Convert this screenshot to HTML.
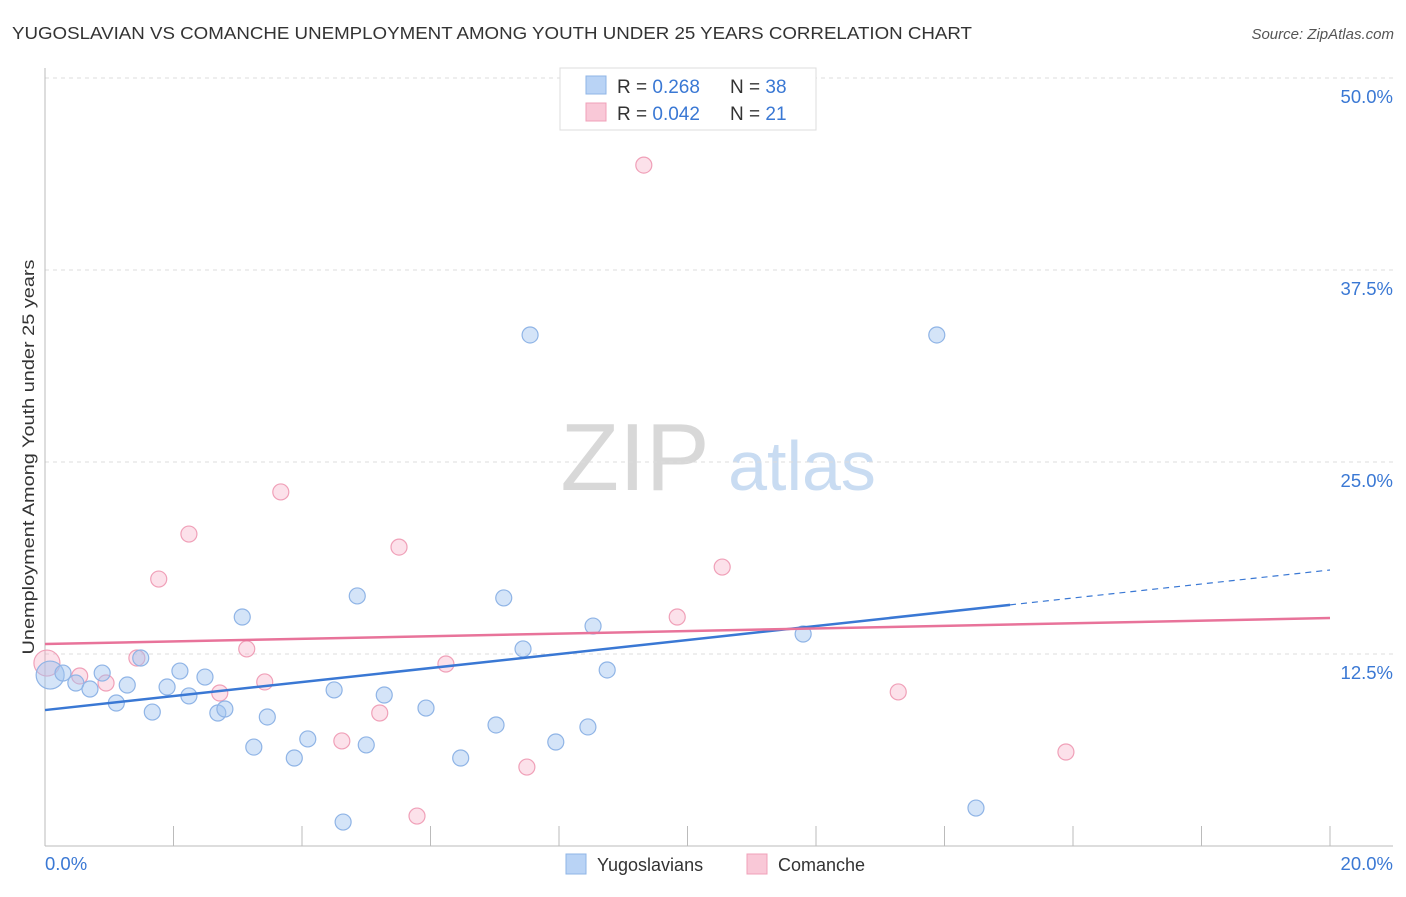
<!DOCTYPE html>
<html><head><meta charset="utf-8"><style>
body{margin:0;background:#fff;font-family:"Liberation Sans",sans-serif;}
svg text{font-family:"Liberation Sans",sans-serif;}
</style></head><body>
<svg id="chart" width="1406" height="892">
<text x="12" y="39" font-size="17.5" fill="#333" textLength="960" lengthAdjust="spacingAndGlyphs">YUGOSLAVIAN VS COMANCHE UNEMPLOYMENT AMONG YOUTH UNDER 25 YEARS CORRELATION CHART</text>
<text x="1394" y="39" font-size="15" fill="#555" font-style="italic" text-anchor="end">Source: ZipAtlas.com</text>
<text x="635" y="490" font-size="96" fill="#d8d8d8" font-family="Liberation Serif" text-anchor="middle">ZIP</text>
<text x="802" y="490" font-size="70" fill="#c9dcf2" text-anchor="middle">atlas</text>
<g id="grid"></g><g id="axes"></g><g id="marks"></g>
<text transform="translate(34,457) rotate(-90)" font-size="17" fill="#333" text-anchor="middle" textLength="395" lengthAdjust="spacingAndGlyphs">Unemployment Among Youth under 25 years</text>
<rect x="560" y="68" width="256" height="62" fill="#fff" stroke="#ddd"/>
<rect x="586" y="76" width="20" height="18" fill="#b9d3f5" stroke="#8fb4e6"/>
<rect x="586" y="103" width="20" height="18" fill="#f9c8d7" stroke="#f0a0b8"/>
<text x="617" y="93" font-size="19" fill="#333">R =  <tspan fill="#3a78d4">0.268</tspan></text>
<text x="730" y="93" font-size="19" fill="#333">N = <tspan fill="#3a78d4">38</tspan></text>
<text x="617" y="120" font-size="19" fill="#333">R = <tspan fill="#3a78d4">0.042</tspan></text>
<text x="730" y="120" font-size="19" fill="#333">N =  <tspan fill="#3a78d4">21</tspan></text>
<rect x="566" y="854" width="20" height="20" fill="#b9d3f5" stroke="#8fb4e6"/>
<text x="597" y="871" font-size="18" fill="#333">Yugoslavians</text>
<rect x="747" y="854" width="20" height="20" fill="#f9c8d7" stroke="#f0a0b8"/>
<text x="778" y="871" font-size="18" fill="#333">Comanche</text>
</svg>
<script>
const blueX=[0.08,0.28,0.48,0.70,0.89,1.11,1.28,1.49,1.67,1.90,2.10,2.24,2.49,2.69,2.80,3.07,3.25,3.46,3.88,4.09,4.50,4.64,4.86,5.00,5.28,5.93,6.47,7.02,7.14,7.44,7.55,7.95,8.45,8.53,8.75,11.80,13.88,14.49];
const blueY=[11.13,11.26,10.61,10.22,11.26,9.31,10.48,12.24,8.72,10.35,11.39,9.77,11.00,8.66,8.92,14.91,6.44,8.40,5.73,6.97,10.16,1.56,16.28,6.58,9.83,8.98,5.73,7.88,16.15,12.83,33.27,6.77,7.75,14.32,11.46,13.80,33.27,2.47];
const pinkX=[0.03,0.54,0.95,1.43,1.77,2.24,2.72,3.14,3.42,3.67,4.62,5.21,5.51,5.79,6.24,7.50,9.32,9.84,10.54,13.28,15.89];
const pinkY=[11.91,11.07,10.61,12.24,17.38,20.31,9.96,12.83,10.68,23.05,6.84,8.66,19.46,1.95,11.85,5.14,44.33,14.91,18.16,10.03,6.12];
const blueTrend=[8.85,17.97]; const blueSolidEnd=15.02;
const pinkTrend=[13.15,14.84];
const yTicks=[12.5,25,37.5,50];
const xTickVals=[0,2,4,6,8,10,12,14,16,18,20];
const NS="http://www.w3.org/2000/svg";
const X=v=>45+v/20*1285, Y=v=>846-v/12.5*192;
function mk(tag,attrs,parent){const e=document.createElementNS(NS,tag);for(const k in attrs)e.setAttribute(k,attrs[k]);document.getElementById(parent).appendChild(e);return e;}
yTicks.forEach(t=>{
 const l=mk('line',{x1:45,x2:1393,y1:Y(t),y2:Y(t),stroke:'#ddd','stroke-dasharray':'4,4'},'grid');
 
 
 const tx=mk('text',{x:1393,y:Y(t)+25,'font-size':18.5,fill:'#3a78d4','text-anchor':'end'},'grid');
 tx.textContent=t.toFixed(1)+'%';
 
 
});
let a=mk('line',{x1:45,x2:45,y1:68,y2:846,stroke:'#bbb'},'axes');


a=mk('line',{x1:45,x2:1393,y1:846,y2:846,stroke:'#bbb'},'axes');


xTickVals.forEach(t=>{
 const l=mk('line',{x1:X(t),x2:X(t),y1:826,y2:846,stroke:'#bbb'},'axes');
 
 
});
let t0=mk('text',{x:45,y:870,'font-size':18.5,fill:'#3a78d4'},'axes');t0.textContent='0.0%';


let t1=mk('text',{x:1393,y:870,'font-size':18.5,fill:'#3a78d4','text-anchor':'end'},'axes');t1.textContent='20.0%';


pinkX.forEach((x,i)=>{
 const c=mk('circle',{cx:X(x),cy:Y(pinkY[i]),r:i==0?13:8,fill:'rgba(245,170,195,0.35)',stroke:'#f0a0b8','stroke-width':1.2},'marks');
 
 
});
blueX.forEach((x,i)=>{
 const c=mk('circle',{cx:X(x),cy:Y(blueY[i]),r:i==0?14:8,fill:'rgba(160,196,240,0.45)',stroke:'#8fb4e6','stroke-width':1.2},'marks');
 
 
});
const by=x=>blueTrend[0]+(blueTrend[1]-blueTrend[0])*x/20;
let ln=mk('line',{x1:X(0),y1:Y(by(0)),x2:X(blueSolidEnd),y2:Y(by(blueSolidEnd)),stroke:'#3a78d4','stroke-width':2.5},'marks');


ln=mk('line',{x1:X(blueSolidEnd),y1:Y(by(blueSolidEnd)),x2:X(20),y2:Y(by(20)),stroke:'#3a78d4','stroke-width':1.2,'stroke-dasharray':'6,5'},'marks');


ln=mk('line',{x1:X(0),y1:Y(pinkTrend[0]),x2:X(20),y2:Y(pinkTrend[1]),stroke:'#e8739a','stroke-width':2.5},'marks');


</script>
</body></html>
